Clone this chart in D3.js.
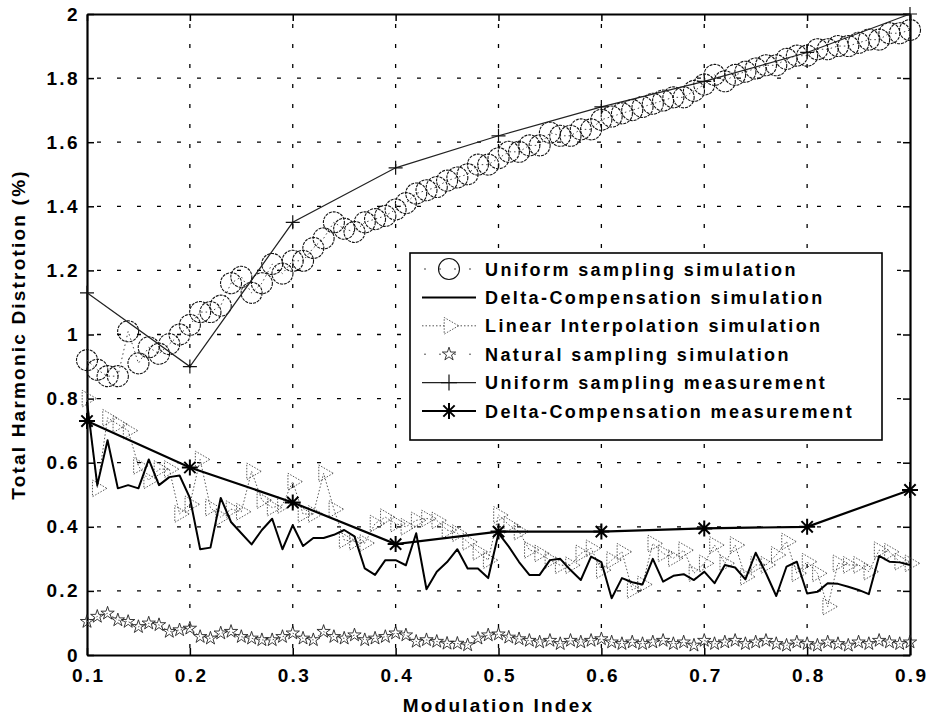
<!DOCTYPE html>
<html>
<head>
<meta charset="utf-8">
<script src="https://cdn.jsdelivr.net/npm/d3@7"></script>
<style>
	body { margin: 0; background: #fff; }
	text { font-family: "Liberation Sans", Arial, Helvetica, sans-serif; font-weight: bold; fill: #000; }
</style>
</head>
<body>
<div id="chart"></div>
<script>
// modulation index for the simulated curves (0.10 .. 0.90, step 0.01)
const modIndex = [0.10,0.11,0.12,0.13,0.14,0.15,0.16,0.17,0.18,0.19,0.20,0.21,0.22,0.23,0.24,0.25,0.26,0.27,0.28,0.29,
	0.30,0.31,0.32,0.33,0.34,0.35,0.36,0.37,0.38,0.39,0.40,0.41,0.42,0.43,0.44,0.45,0.46,0.47,0.48,0.49,
	0.50,0.51,0.52,0.53,0.54,0.55,0.56,0.57,0.58,0.59,0.60,0.61,0.62,0.63,0.64,0.65,0.66,0.67,0.68,0.69,
	0.70,0.71,0.72,0.73,0.74,0.75,0.76,0.77,0.78,0.79,0.80,0.81,0.82,0.83,0.84,0.85,0.86,0.87,0.88,0.89,0.90];

const uniformSim = [0.92,0.89,0.87,0.87,1.01,0.91,0.96,0.94,0.97,1.00,1.03,1.07,1.07,1.09,1.16,1.18,1.13,1.16,1.22,1.19,
	1.23,1.23,1.27,1.30,1.35,1.33,1.32,1.35,1.36,1.37,1.39,1.41,1.44,1.45,1.46,1.48,1.49,1.50,1.53,1.53,
	1.55,1.57,1.57,1.59,1.59,1.63,1.62,1.62,1.64,1.64,1.67,1.68,1.69,1.70,1.71,1.72,1.73,1.74,1.74,1.76,
	1.78,1.81,1.79,1.81,1.82,1.83,1.84,1.84,1.86,1.87,1.87,1.89,1.89,1.90,1.90,1.91,1.92,1.92,1.94,1.94,1.95];

const deltaSim = [0.79,0.53,0.67,0.52,0.53,0.52,0.61,0.53,0.555,0.56,0.49,0.33,0.335,0.49,0.415,0.38,0.345,0.39,0.425,0.33,
	0.405,0.34,0.365,0.365,0.375,0.39,0.37,0.27,0.25,0.296,0.296,0.28,0.38,0.205,0.26,0.29,0.33,0.27,0.27,0.24,
	0.38,0.338,0.29,0.25,0.25,0.296,0.30,0.265,0.234,0.307,0.29,0.177,0.24,0.227,0.22,0.30,0.229,0.247,0.252,0.234,
	0.26,0.224,0.281,0.273,0.236,0.319,0.255,0.184,0.276,0.291,0.192,0.197,0.224,0.222,0.213,0.203,0.19,0.309,0.291,0.289,0.281];

const linearSim = [0.80,0.52,0.74,0.72,0.70,0.59,0.545,0.58,0.58,0.44,0.47,0.61,0.46,0.43,0.455,0.447,0.573,0.483,0.46,0.468,
	0.541,0.44,0.44,0.567,0.455,0.359,0.354,0.349,0.41,0.43,0.41,0.40,0.42,0.426,0.42,0.39,0.38,0.353,0.322,0.296,
	0.437,0.406,0.385,0.328,0.317,0.296,0.28,0.28,0.317,0.333,0.265,0.296,0.322,0.203,0.22,0.348,0.317,0.302,0.327,0.255,
	0.286,0.343,0.286,0.343,0.244,0.281,0.281,0.312,0.354,0.255,0.291,0.255,0.151,0.286,0.281,0.281,0.26,0.327,0.322,0.291,0.286];

const naturalSim = [0.104,0.12,0.13,0.109,0.104,0.088,0.099,0.094,0.073,0.078,0.083,0.057,0.052,0.068,0.073,0.057,0.052,0.047,0.047,0.057,
	0.068,0.052,0.047,0.073,0.057,0.052,0.062,0.047,0.052,0.057,0.068,0.062,0.042,0.047,0.042,0.036,0.036,0.031,0.052,0.062,
	0.065,0.055,0.05,0.045,0.04,0.045,0.035,0.045,0.04,0.045,0.05,0.04,0.035,0.04,0.035,0.04,0.045,0.035,0.04,0.03,
	0.045,0.035,0.04,0.045,0.035,0.04,0.045,0.035,0.03,0.04,0.035,0.03,0.04,0.035,0.03,0.04,0.035,0.045,0.04,0.035,0.04];

// measurements were taken every 0.1
const measIndex = [0.1,0.2,0.3,0.4,0.5,0.6,0.7,0.8,0.9];
const uniformMeas = [1.13,0.90,1.35,1.52,1.62,1.71,1.79,1.88,2.0];
const deltaMeas = [0.73,0.585,0.476,0.346,0.385,0.385,0.395,0.40,0.515];

const xTicks = [0.1,0.2,0.3,0.4,0.5,0.6,0.7,0.8,0.9];
const yTicks = [0,0.2,0.4,0.6,0.8,1,1.2,1.4,1.6,1.8,2];

const legendLabels = [
	"Uniform sampling simulation",
	"Delta-Compensation simulation",
	"Linear Interpolation simulation",
	"Natural sampling simulation",
	"Uniform sampling measurement",
	"Delta-Compensation measurement"
];

const width = 928, height = 717;
const margin = {top: 14, right: 18, bottom: 62, left: 87};

const svg = d3.select("#chart").append("svg")
	.attr("width", width)
	.attr("height", height);

const x = d3.scaleLinear()
	.domain([0.1, 0.9])
	.range([margin.left, width - margin.right]);
const y = d3.scaleLinear()
	.domain([0, 2])
	.range([height - margin.bottom, margin.top]);

// grid
let grid = svg.append("g")
	.attr("stroke", "#000")
	.attr("stroke-width", 1.3)
	.attr("stroke-dasharray", "4,16");
grid.selectAll("line.gx")
	.data(xTicks.slice(1, -1))
	.enter().append("line")
	.attr("x1", d => x(d)).attr("x2", d => x(d))
	.attr("y1", y(2) + 10).attr("y2", y(0));
grid.selectAll("line.gy")
	.data(yTicks.slice(1, -1))
	.enter().append("line")
	.attr("y1", d => y(d)).attr("y2", d => y(d))
	.attr("x1", x(0.1) + 10).attr("x2", x(0.9));

// axes, ticks pointing inward on all four sides
let xAxis = g => g
	.attr("transform", `translate(0,${y(0)})`)
	.call(d3.axisBottom(x).tickValues(xTicks).tickFormat(d3.format(".1f")).tickSizeInner(-7).tickSizeOuter(0).tickPadding(14));
let yAxis = g => g
	.attr("transform", `translate(${x(0.1)},0)`)
	.call(d3.axisLeft(y).tickValues(yTicks).tickFormat(d => d3.format("")(+d.toFixed(1))).tickSizeInner(-7).tickSizeOuter(0));
let topAxis = g => g
	.attr("transform", `translate(0,${y(2)})`)
	.call(d3.axisTop(x).tickValues(xTicks).tickFormat("").tickSizeInner(-7).tickSizeOuter(0));
let rightAxis = g => g
	.attr("transform", `translate(${x(0.9)},0)`)
	.call(d3.axisRight(y).tickValues(yTicks).tickFormat("").tickSizeInner(-7).tickSizeOuter(0));

[xAxis, yAxis, topAxis, rightAxis].forEach(a => {
	svg.append("g")
		.attr("class", "axis")
		.style("font", "bold 19px 'Liberation Sans', Arial, sans-serif")
		.style("letter-spacing", "2.4px")
		.call(a);
});
svg.selectAll(".axis .domain").attr("stroke", "#000").attr("stroke-width", 2.2);
svg.selectAll(".axis .tick line").attr("stroke", "#000").attr("stroke-width", 1.5);
svg.selectAll(".axis .tick text").attr("fill", "#000");
svg.selectAll(".axis").filter((d, i) => i === 0).selectAll(".tick text")
	.attr("dx", "1.2px");
svg.selectAll(".axis").filter((d, i) => i === 1).selectAll(".tick text")
	.attr("text-anchor", "end")
	.attr("x", -7);

// series helpers
const line = d3.line()
	.x(d => x(d[0]))
	.y(d => y(d[1]));
const pair = (xs, ys) => xs.map((v, i) => [v, ys[i]]);

const asterisk = r => {
	let p = "";
	[0, 45, 90, 135].forEach(a => {
		let dx = r * Math.cos(a * Math.PI / 180), dy = r * Math.sin(a * Math.PI / 180);
		p += `M${-dx},${-dy}L${dx},${dy}`;
	});
	return p;
};
const plus = r => `M${-r},0L${r},0M0,${-r}L0,${r}`;
const triRight = d3.symbol().type(d3.symbolTriangle).size(120)();
const star = d3.symbol().type(d3.symbolStar).size(55)();

const plot = svg.append("g");

// natural sampling simulation: dotted + stars
let natural = pair(modIndex, naturalSim);
plot.append("path")
	.datum(natural)
	.attr("fill", "none").attr("stroke", "#555").attr("stroke-width", 1)
	.attr("stroke-dasharray", "1.5,2")
	.attr("d", line);
plot.selectAll("path.star")
	.data(natural)
	.enter().append("path")
	.attr("class", "star")
	.attr("d", star)
	.attr("transform", d => `translate(${x(d[0])},${y(d[1])})`)
	.attr("fill", "none").attr("stroke", "#222").attr("stroke-width", 0.9);

// linear interpolation simulation: dotted + right triangles
let linear = pair(modIndex, linearSim);
plot.append("path")
	.datum(linear)
	.attr("fill", "none").attr("stroke", "#555").attr("stroke-width", 1)
	.attr("stroke-dasharray", "1.5,2")
	.attr("d", line);
plot.selectAll("path.tri")
	.data(linear)
	.enter().append("path")
	.attr("class", "tri")
	.attr("d", triRight)
	.attr("transform", d => `translate(${x(d[0])},${y(d[1])}) rotate(90)`)
	.attr("fill", "none").attr("stroke", "#444").attr("stroke-width", 0.9)
	.attr("stroke-dasharray", "1.5,1.5");

// delta-compensation simulation: solid
plot.append("path")
	.datum(pair(modIndex, deltaSim))
	.attr("fill", "none").attr("stroke", "#000").attr("stroke-width", 2)
	.attr("stroke-linejoin", "round")
	.attr("d", line);

// uniform sampling simulation: circles
let uniform = pair(modIndex, uniformSim);
plot.append("path")
	.datum(uniform)
	.attr("fill", "none").attr("stroke", "#444").attr("stroke-width", 1)
	.attr("stroke-dasharray", "1.5,3")
	.attr("d", line);
plot.selectAll("circle.usim")
	.data(uniform)
	.enter().append("circle")
	.attr("class", "usim")
	.attr("cx", d => x(d[0]))
	.attr("cy", d => y(d[1]))
	.attr("r", 10.5)
	.attr("fill", "none").attr("stroke", "#111").attr("stroke-width", 1.1)
	.attr("stroke-dasharray", "3,1");

// uniform sampling measurement: thin line + plus
let uMeas = pair(measIndex, uniformMeas);
plot.append("path")
	.datum(uMeas)
	.attr("fill", "none").attr("stroke", "#222").attr("stroke-width", 1.2)
	.attr("d", line);
plot.selectAll("path.plus")
	.data(uMeas)
	.enter().append("path")
	.attr("class", "plus")
	.attr("d", plus(7))
	.attr("transform", d => `translate(${x(d[0])},${y(d[1])})`)
	.attr("stroke", "#111").attr("stroke-width", 1.2);

// delta-compensation measurement: thick line + asterisk
let dMeas = pair(measIndex, deltaMeas);
plot.append("path")
	.datum(dMeas)
	.attr("fill", "none").attr("stroke", "#000").attr("stroke-width", 2.2)
	.attr("d", line);
plot.selectAll("path.ast")
	.data(dMeas)
	.enter().append("path")
	.attr("class", "ast")
	.attr("d", asterisk(8))
	.attr("transform", d => `translate(${x(d[0])},${y(d[1])})`)
	.attr("stroke", "#000").attr("stroke-width", 2);

// legend
const legend = svg.append("g").attr("transform", "translate(410,253)");
legend.append("rect")
	.attr("width", 472).attr("height", 187)
	.attr("fill", "#fff").attr("stroke", "#000").attr("stroke-width", 1.6);

const rowY = i => 16 + i * 28.4;
const sx1 = 12, sx2 = 66, sm = 39;
legendLabels.forEach((label, i) => {
	let row = legend.append("g").attr("transform", `translate(0,${rowY(i)})`);
	if (i === 0) {
		row.append("line").attr("x1", sx1).attr("x2", sx2).attr("stroke", "#444").attr("stroke-dasharray", "2,13").attr("stroke-dashoffset", -2);
		row.append("circle").attr("cx", sm).attr("r", 10.5).attr("fill", "none").attr("stroke", "#111").attr("stroke-width", 1.1);
	} else if (i === 1) {
		row.append("line").attr("x1", sx1).attr("x2", sx2).attr("stroke", "#000").attr("stroke-width", 2);
	} else if (i === 2) {
		row.append("line").attr("x1", sx1).attr("x2", sx2).attr("stroke", "#555").attr("stroke-dasharray", "1.5,2");
		row.append("path").attr("d", triRight).attr("transform", `translate(${sm},0) rotate(90)`)
			.attr("fill", "#fff").attr("stroke", "#444").attr("stroke-width", 0.9).attr("stroke-dasharray", "1.5,1.5");
	} else if (i === 3) {
		row.append("line").attr("x1", sx1).attr("x2", sx2).attr("stroke", "#555").attr("stroke-dasharray", "2,13").attr("stroke-dashoffset", -2);
		row.append("path").attr("d", star).attr("transform", `translate(${sm},0)`)
			.attr("fill", "#fff").attr("stroke", "#222").attr("stroke-width", 0.9);
	} else if (i === 4) {
		row.append("line").attr("x1", sx1).attr("x2", sx2).attr("stroke", "#222").attr("stroke-width", 1.2);
		row.append("path").attr("d", plus(8)).attr("transform", `translate(${sm},0)`).attr("stroke", "#111").attr("stroke-width", 1.2);
	} else {
		row.append("line").attr("x1", sx1).attr("x2", sx2).attr("stroke", "#000").attr("stroke-width", 2.2);
		row.append("path").attr("d", asterisk(8)).attr("transform", `translate(${sm},0)`).attr("stroke", "#000").attr("stroke-width", 2);
	}
	row.append("text")
		.attr("x", 75)
		.attr("y", 6.5)
		.style("font-size", "18px")
		.style("letter-spacing", "2.4px")
		.text(label);
});

// axis titles
svg.append("text")
	.attr("x", x(0.5))
	.attr("y", 712)
	.attr("text-anchor", "middle")
	.style("font-size", "19px")
	.style("letter-spacing", "2.2px")
	.text("Modulation Index");

svg.append("text")
	.attr("transform", `translate(25,${(y(0) + y(2)) / 2}) rotate(-90)`)
	.attr("text-anchor", "middle")
	.style("font-size", "19px")
	.style("letter-spacing", "2.2px")
	.text("Total Harmonic Distrotion (%)");
</script>
</body>
</html>
